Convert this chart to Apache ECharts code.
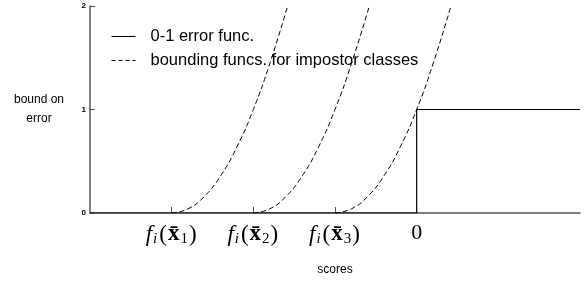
<!DOCTYPE html>
<html><head><meta charset="utf-8">
<script src="https://cdn.jsdelivr.net/npm/echarts@6/dist/echarts.min.js"></script>
<style>html,body{margin:0;padding:0;background:#fff}#c{width:586px;height:285px}</style>
</head><body><div id="c"></div>
<script>
// x positions (score units) of the three impostor scores and of 0
var xTicks = [-3, -2, -1, 0];
var xTickSubs = ['1', '2', '3', null];
var yTicks = [0, 1, 2];
// 0-1 error function
var errX = [-4, 0, 0, 2];
var errY = [0, 0, 1, 1];
// bounding function shape (offset from its start score, value)
var boundOffsets = [0, 0.2, 0.4, 0.6, 0.8, 1.0, 1.2, 1.42];
var boundValues  = [0, 0.04, 0.16, 0.36, 0.64, 1.0, 1.44, 2.0];
var boundStarts = [-3, -2, -1];

var chart = echarts.init(document.getElementById('c'));
var series = [{
  name: '0-1 error func.', type: 'line', symbol: 'none',
  lineStyle: {color: '#000', width: 1.2},
  itemStyle: {color: '#000'},
  data: errX.map(function (x, i) { return [x, errY[i]]; }),
  z: 3
}];
boundStarts.forEach(function (s, k) {
  series.push({
    name: 'bounding funcs. for impostor classes', type: 'line', symbol: 'none', smooth: true,
    lineStyle: {color: '#000', width: 1, type: [5, 3]},
    itemStyle: {color: '#000'},
    data: boundOffsets.map(function (o, i) { return [s + o, boundValues[i]]; })
  });
});
var serif = 'Liberation Serif';
chart.setOption({
  animation: false,
  grid: {left: 90, right: 6, top: 6, bottom: 72, outerBoundsMode: 'none', containLabel: false},
  legend: {
    left: 111, top: 28, padding: 0, orient: 'vertical', itemGap: 7, itemWidth: 24, itemHeight: 14,
    itemStyle: {opacity: 0},
    textStyle: {fontFamily: 'Liberation Sans', fontSize: 16.5, color: '#000', padding: [0, 0, 0, 10]},
    data: [
      {name: '0-1 error func.', lineStyle: {width: 1, color: '#000'}},
      {name: 'bounding funcs. for impostor classes', lineStyle: {width: 1, color: '#000', type: [4, 3]}}
    ]
  },
  xAxis: {
    type: 'value', min: -4, max: 2,
    name: 'scores', nameLocation: 'middle', nameGap: 51,
    nameTextStyle: {fontFamily: 'Liberation Sans', fontSize: 12, color: '#000'},
    axisLine: {onZero: false, lineStyle: {color: '#555', width: 1.5}},
    splitLine: {show: false},
    axisTick: {inside: true, length: 6, lineStyle: {color: '#555'}, customValues: xTicks.slice(0, 3)},
    axisLabel: {
      customValues: xTicks, margin: 9,
      formatter: function (v) {
        var i = xTicks.indexOf(v);
        if (i < 0) return '';
        if (xTickSubs[i] === null) return '{z|0}';
        return '{f|f}{si|i}{p|(}{x|x\u0304}{s|' + xTickSubs[i] + '}{p|)}';
      },
      rich: {
        z: {fontFamily: serif, fontSize: 22, color: '#000'},
        f: {fontFamily: serif, fontStyle: 'italic', fontSize: 23, color: '#000', padding: [0, 1, 0, 0]},
        p: {fontFamily: serif, fontSize: 23, color: '#000', padding: [0, 1, 0, 1]},
        x: {fontFamily: serif, fontWeight: 'bold', fontSize: 23, color: '#000'},
        si: {fontFamily: serif, fontStyle: 'italic', fontSize: 15, color: '#000', padding: [10, 1, 0, 0]},
        s: {fontFamily: serif, fontSize: 15, color: '#000', padding: [10, 0, 0, 1]}
      }
    }
  },
  yAxis: {
    type: 'value', min: 0, max: 2, interval: 1,
    name: 'bound on\nerror', nameLocation: 'middle', nameGap: 51, nameRotate: 0,
    nameTextStyle: {fontFamily: 'Liberation Sans', fontSize: 12, color: '#000', lineHeight: 19, align: 'center', padding: [10, 0, 0, 0]},
    axisLine: {show: true, onZero: false, lineStyle: {color: '#555', width: 1.5}},
    splitLine: {show: false},
    axisTick: {show: true, inside: true, length: 5, lineStyle: {color: '#555'}},
    axisLabel: {fontFamily: 'Liberation Sans', fontWeight: 'bold', fontSize: 8, color: '#000', margin: 4}
  },
  series: series
});
</script></body></html>
